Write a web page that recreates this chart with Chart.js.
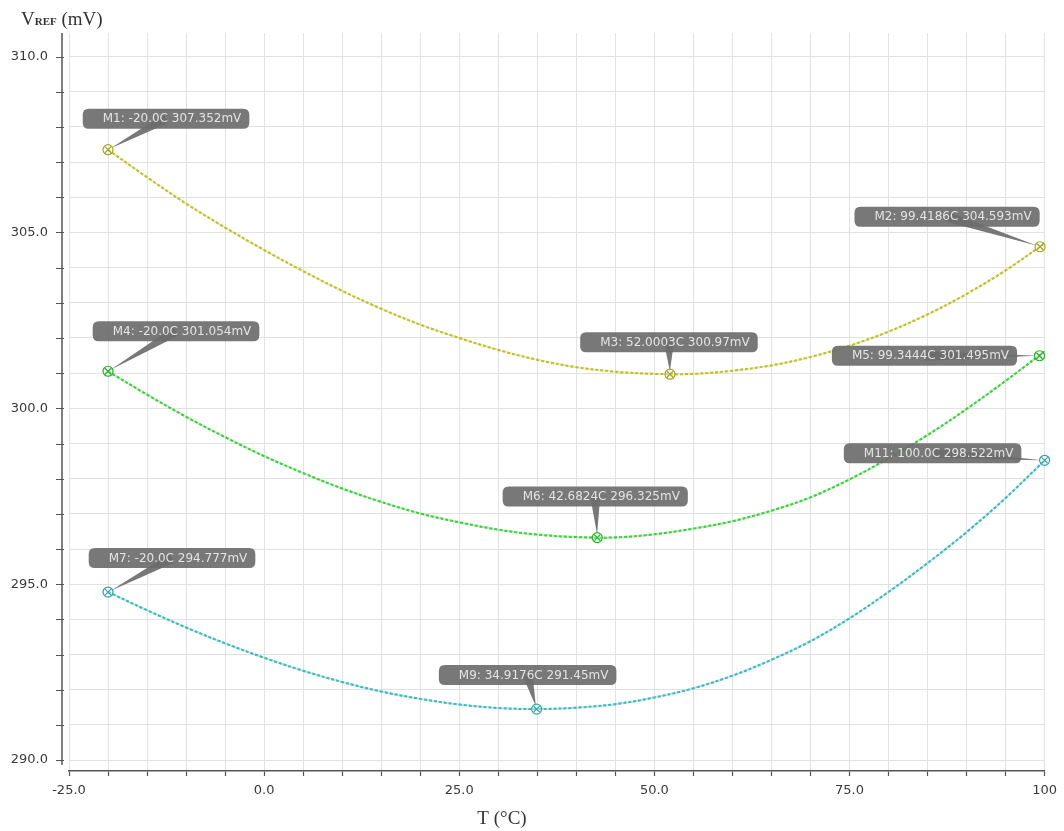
<!DOCTYPE html>
<html>
<head>
<meta charset="utf-8">
<script src="https://cdn.jsdelivr.net/npm/chart.js@4/dist/chart.umd.min.js"></script>
<style>
html,body{margin:0;padding:0;background:#fff;}
canvas{display:block;}
</style>
</head>
<body>
<canvas id="c" width="1064" height="831"></canvas>
<script>
// ---- data ----
const temps = [-20,-15,-10,-5,0,5,10,15,20,25,30,35,40,45,50,55,60,65,70,75,80,85,90,95,100];
const vrefTop = [307.35,306.57,305.82,305.14,304.50,303.90,303.34,302.83,302.38,302.00,301.66,301.38,301.17,301.04,300.98,300.98,301.07,301.22,301.46,301.78,302.18,302.67,303.25,303.92,304.69];
const vrefMid = [301.05,300.39,299.76,299.18,298.64,298.16,297.72,297.34,297.01,296.76,296.55,296.41,296.34,296.33,296.42,296.58,296.79,297.09,297.47,297.98,298.58,299.24,299.98,300.78,301.62];
const vrefLow = [294.78,294.26,293.77,293.32,292.91,292.54,292.22,291.95,291.74,291.58,291.48,291.45,291.49,291.59,291.78,292.04,292.40,292.85,293.38,294.03,294.78,295.60,296.48,297.45,298.52];

const markerNames = ['M1','M2','M3','M4','M5','M6','M7','M9','M11'];
const markerT     = [-20.0, 99.4186, 52.0003, -20.0, 99.3444, 42.6824, -20.0, 34.9176, 100.0];
const markerV     = [307.352, 304.593, 300.97, 301.054, 301.495, 296.325, 294.777, 291.45, 298.522];
const markerTText = ['-20.0C','99.4186C','52.0003C','-20.0C','99.3444C','42.6824C','-20.0C','34.9176C','100.0C'];
const markerVText = ['307.352mV','304.593mV','300.97mV','301.054mV','301.495mV','296.325mV','294.777mV','291.45mV','298.522mV'];
const markerSeries = [0,0,0,1,1,1,2,2,2];

const xGridValues = [-25,-20,-15,-10,-5,0,5,10,15,20,25,30,35,40,45,50,55,60,65,70,75,80,85,90,95,100];
const xTickValues = [-25,0,25,50,75,100];
const xTickLabels = ['-25.0','0.0','25.0','50.0','75.0','100'];
const yGridValues = [290,291,292,293,294,295,296,297,298,299,300,301,302,303,304,305,306,307,308,309,310];
const yTickValues = [290,295,300,305,310];
const yTickLabels = ['290.0','295.0','300.0','305.0','310.0'];

// ---- styles (kept separate from data) ----
const seriesStyle = [
  {dash:'#a6a61a', under:'rgba(225,225,90,0.45)', mark:'#a5a522'},
  {dash:'#22b822', under:'rgba(110,230,110,0.45)', mark:'#22b522'},
  {dash:'#1fa2a8', under:'rgba(110,210,215,0.45)', mark:'#2aa5a5'}
];
// label box centre offsets from marker point (px)
const markerLayout = [
  {dx:58, dy:-31}, {dx:-93, dy:-30}, {dx:-1, dy:-32},
  {dx:68, dy:-40}, {dx:-115, dy:0}, {dx:-2, dy:-41},
  {dx:64, dy:-34}, {dx:-9, dy:-34}, {dx:-112, dy:-7}
];

function pts(vals){ return temps.map((t,i)=>({x:t, y:vals[i]})); }
const seriesVals = [vrefTop, vrefMid, vrefLow];
const datasets = [];
seriesVals.forEach((vals,i)=>{
  datasets.push({data:pts(vals), borderColor:seriesStyle[i].under, borderWidth:2, pointRadius:0, tension:0.35, fill:false});
  datasets.push({data:pts(vals), borderColor:seriesStyle[i].dash, borderWidth:2, borderDash:[3,2], pointRadius:0, tension:0.35, fill:false});
});

function roundRect(ctx,x,y,w,h,r){
  ctx.beginPath();
  ctx.moveTo(x+r,y); ctx.lineTo(x+w-r,y); ctx.quadraticCurveTo(x+w,y,x+w,y+r);
  ctx.lineTo(x+w,y+h-r); ctx.quadraticCurveTo(x+w,y+h,x+w-r,y+h);
  ctx.lineTo(x+r,y+h); ctx.quadraticCurveTo(x,y+h,x,y+h-r);
  ctx.lineTo(x,y+r); ctx.quadraticCurveTo(x,y,x+r,y); ctx.closePath();
}

const overlay = {
  id:'overlay',
  afterDraw(chart){
    const ctx = chart.ctx, ca = chart.chartArea, xs = chart.scales.x, ys = chart.scales.y;
    ctx.save();
    // y axis line and ticks
    const ax = ca.left - 7;
    ctx.strokeStyle = '#555'; ctx.lineWidth = 1.5;
    ctx.beginPath(); ctx.moveTo(ax, ca.top); ctx.lineTo(ax, ca.bottom - 6); ctx.stroke();
    ctx.lineWidth = 1.2;
    ctx.beginPath();
    ys.ticks.forEach(t=>{ const y = Math.round(ys.getPixelForValue(t.value))+0.5; ctx.moveTo(ax-6,y); ctx.lineTo(ax+2,y); });
    ctx.stroke();

    // markers
    ctx.font = '12px "DejaVu Sans"';
    ctx.textBaseline = 'middle';
    markerNames.forEach((nm,i)=>{
      const px = xs.getPixelForValue(markerT[i]);
      const py = ys.getPixelForValue(markerV[i]);
      const lay = markerLayout[i];
      const txt = nm + ': ' + markerTText[i] + ' ' + markerVText[i];
      const tw = ctx.measureText(txt).width;
      const bw = tw + 28, bh = 20;
      const cx = px + lay.dx, cy = py + lay.dy;
      const bx = cx - bw/2, by = cy - bh/2;
      // pointer wedge
      const ddx = px - cx, ddy = py - cy, len = Math.hypot(ddx,ddy) || 1;
      const nx = -ddy/len, ny = ddx/len, hw = 5;
      ctx.fillStyle = 'rgba(108,108,108,0.92)';
      ctx.beginPath();
      ctx.moveTo(cx + nx*hw, cy + ny*hw);
      ctx.lineTo(cx - nx*hw, cy - ny*hw);
      ctx.lineTo(px - ddx/len*3, py - ddy/len*3);
      ctx.closePath(); ctx.fill();
      roundRect(ctx,bx,by,bw,bh,6); ctx.fill();
      ctx.fillStyle = '#e4e4e4';
      ctx.textAlign = 'left';
      ctx.fillText(txt, bx + 20, cy + 0.5);
      // marker symbol
      const col = seriesStyle[markerSeries[i]].mark;
      ctx.strokeStyle = col; ctx.lineWidth = 1.2;
      ctx.fillStyle = 'rgba(255,255,255,0.35)';
      ctx.beginPath(); ctx.arc(px,py,5,0,Math.PI*2); ctx.fill(); ctx.stroke();
      ctx.beginPath();
      ctx.moveTo(px-3,py-3); ctx.lineTo(px+3,py+3);
      ctx.moveTo(px+3,py-3); ctx.lineTo(px-3,py+3);
      ctx.stroke();
    });

    // axis titles
    ctx.fillStyle = '#333';
    ctx.textBaseline = 'alphabetic';
    ctx.textAlign = 'left';
    let x0 = 21;
    ctx.font = '19px "Liberation Serif"';
    ctx.fillText('V', x0, 25); x0 += ctx.measureText('V').width;
    ctx.font = 'bold 11px "Liberation Serif"';
    ctx.fillText('REF', x0, 25); x0 += ctx.measureText('REF').width;
    ctx.font = '19px "Liberation Serif"';
    ctx.fillText(' (mV)', x0, 25);
    ctx.textAlign = 'center';
    ctx.fillText('T (°C)', 502, 824);
    ctx.restore();
  }
};

new Chart(document.getElementById('c').getContext('2d'), {
  type:'line',
  data:{datasets},
  options:{
    responsive:false, animation:false, devicePixelRatio:1,
    layout:{padding:{top:33, right:16, left:0, bottom:0}},
    plugins:{legend:{display:false}, tooltip:{enabled:false}},
    elements:{point:{radius:0}},
    scales:{
      x:{
        type:'linear', min:-25, max:100,
        afterFit(s){ s.height = 60; },
        afterBuildTicks(s){ s.ticks = xGridValues.map(v=>({value:v})); },
        ticks:{autoSkip:false, maxRotation:0, padding:7, color:'#3a3a3a',
          font:{family:'DejaVu Sans', size:13},
          callback:(v)=>{ const i = xTickValues.indexOf(v); return i>=0 ? xTickLabels[i] : ''; }},
        grid:{color:'#e2e2e2', lineWidth:1, drawTicks:true, tickLength:5, tickColor:'#555', tickWidth:1.2},
        border:{display:true, color:'#555', width:1.5}
      },
      y:{
        type:'linear', min:289.69, max:310.67,
        afterFit(s){ s.width = 69; },
        afterBuildTicks(s){ s.ticks = yGridValues.map(v=>({value:v})); },
        ticks:{autoSkip:false, padding:21, color:'#3a3a3a',
          font:{family:'DejaVu Sans', size:13},
          callback:(v)=>{ const i = yTickValues.indexOf(v); return i>=0 ? yTickLabels[i] : ''; }},
        grid:{color:'#e2e2e2', lineWidth:1, drawTicks:false},
        border:{display:false}
      }
    }
  },
  plugins:[overlay]
});
</script>
</body>
</html>
